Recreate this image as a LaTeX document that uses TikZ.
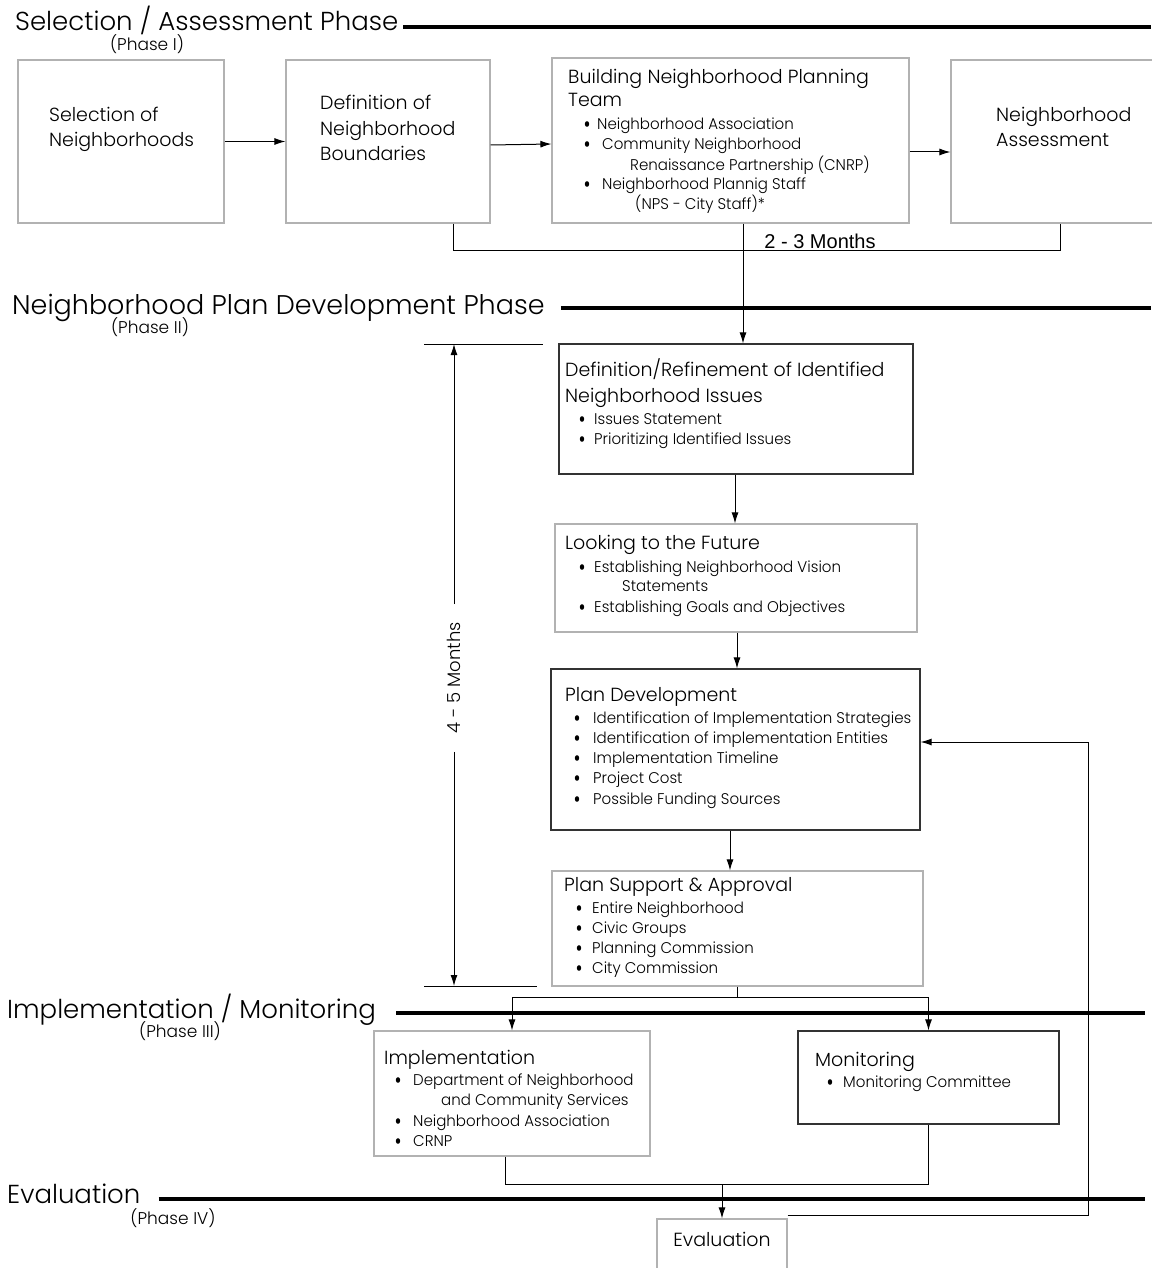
\documentclass[tikz,border=0pt]{standalone}
\usepackage{fontspec}
\setmainfont{Poppins}[UprightFont=* Light]
\newfontfamily\bodyfont{Poppins}[UprightFont=* Light, FakeStretch=0.97]
\newfontfamily\monthfont{Liberation Sans}
\usetikzlibrary{arrows.meta}

\begin{document}
\begin{tikzpicture}
	[
		x=1pt, y=-1pt,
		stagebox/.style = {shape=rectangle, draw=black!30, line width=1.1pt, inner sep=0pt},
		keybox/.style = {stagebox, draw=black!80},
		head/.style = {font=\fontsize{26}{30}\selectfont, anchor=base west, inner sep=0pt},
		phase/.style = {font=\fontsize{17}{20}\selectfont, inner sep=0pt},
		ttl/.style = {font=\fontsize{19}{23}\selectfont, anchor=mid west, yshift=-4pt, inner sep=0pt},
		itm/.style = {font=\bodyfont\fontsize{15.5}{18}\selectfont, anchor=mid west, yshift=-3pt, inner sep=0pt},
		phaseline/.style = {line width=3.5pt},
		link/.style = {line width=1pt},
		arr/.style = {link, -{Latex[length=11pt, width=7pt]}}
	]
	
	\useasboundingbox (0,0) rectangle (1151,1268);
	
	% phase headers
	\node [head] (h1) at (15,31) {Selection / Assessment Phase};
	\node [phase] at (147,44) {(Phase I)};
	\draw [phaseline] ([xshift=5]h1.east |- 0,27) -- (1151,27);
	
	\node [head, font=\fontsize{27}{31}\selectfont] (h2) at (12,314) {Neighborhood Plan Development Phase};
	\node [phase] at (150,327) {(Phase II)};
	\draw [phaseline] ([xshift=16]h2.east |- 0,308) -- (1151,308);
	
	\node [head] (h3) at (7,1018) {Implementation / Monitoring};
	\node [phase] at (180,1031) {(Phase III)};
	\draw [phaseline] ([xshift=20]h3.east |- 0,1013) -- (1145,1013);
	
	\node [head] (h4) at (7,1203) {Evaluation};
	\node [phase] at (173,1218) {(Phase IV)};
	\draw [phaseline] ([xshift=18]h4.east |- 0,1199) -- (1145,1199);
	
	% phase I
	\node [stagebox, minimum width=206, minimum height=163] (sel) at (121,141.5) {};
	\node [ttl] at (49,115) {Selection of};
	\node [ttl] at (49,140) {Neighborhoods};
	
	\node [stagebox, minimum width=204, minimum height=163] (bnd) at (388,141.5) {};
	\node [ttl] at (320,103) {Definition of};
	\node [ttl] at (320,129) {Neighborhood};
	\node [ttl] at (320,154) {Boundaries};
	
	\node [stagebox, minimum width=357, minimum height=165] (team) at (730.5,140.5) {};
	\node [ttl] at (568,77) {Building Neighborhood Planning};
	\node [ttl] at (568,100) {Team};
	\foreach \tx/\yy/\t in {597/124/Neighborhood Association, 602/144/Community Neighborhood, 602/184/Neighborhood Plannig Staff}
	{
		\fill (587,\yy) ellipse [x radius=2.2pt, y radius=2.8pt];
		\node [itm] at (\tx,\yy) {\t};
	}
	\node [itm] at (630,165) {Renaissance Partnership (CNRP)};
	\node [itm] at (635,204) {(NPS - City Staff)*};
	
	\node [stagebox, minimum width=219, minimum height=163] (asmt) at (1060.5,141.5) {};
	\node [ttl] at (996,115) {Neighborhood};
	\node [ttl] at (996,140) {Assessment};
	
	\draw [arr] (sel) -- (bnd);
	\draw [arr] ([yshift=-3.5]bnd.east) -- ([yshift=-3.5]team.west);
	\draw [arr] ([yshift=-11.5]team.east) -- ([yshift=-10.5]asmt.west);
	
	\draw [link] ([xshift=65]bnd.south) -- ++(0,27) -| (asmt.south);
	\node [font=\monthfont\fontsize{20}{24}\selectfont, inner sep=0pt] at (820,241) {2 - 3 Months};
	
	% phase II
	\node [keybox, minimum width=354, minimum height=130] (issues) at (736,409) {};
	\node [ttl] at (565,370) {Definition/Refinement of Identified};
	\node [ttl] at (565,396) {Neighborhood Issues};
	\foreach \yy/\t in {419/Issues Statement, 439/Prioritizing Identified Issues}
	{
		\fill (582,\yy) ellipse [x radius=2.2pt, y radius=2.8pt];
		\node [itm] at (594,\yy) {\t};
	}
	
	\node [stagebox, minimum width=362, minimum height=108] (future) at (736,578) {};
	\node [ttl] at (565,543) {Looking to the Future};
	\foreach \yy/\t in {567/Establishing Neighborhood Vision, 607/Establishing Goals and Objectives}
	{
		\fill (582,\yy) ellipse [x radius=2.2pt, y radius=2.8pt];
		\node [itm] at (594,\yy) {\t};
	}
	\node [itm] at (622,586) {Statements};
	
	\node [keybox, minimum width=369, minimum height=161] (plan) at (735.5,749.5) {};
	\node [ttl] at (565,695) {Plan Development};
	\foreach \yy/\t in {718/Identification of Implementation Strategies, 738/Identification of implementation Entities, 758/Implementation Timeline, 778/Project Cost, 799/Possible Funding Sources}
	{
		\fill (577,\yy) ellipse [x radius=2.2pt, y radius=2.8pt];
		\node [itm] at (593,\yy) {\t};
	}
	
	\node [stagebox, minimum width=371, minimum height=115] (support) at (737.5,928.5) {};
	\node [ttl] at (564,885) {Plan Support \& Approval};
	\foreach \yy/\t in {908/Entire Neighborhood, 928/Civic Groups, 948/Planning Commission, 968/City Commission}
	{
		\fill (579,\yy) ellipse [x radius=2.2pt, y radius=2.8pt];
		\node [itm] at (592,\yy) {\t};
	}
	
	\draw [arr] ([xshift=12.5]team.south) -- ([xshift=12.5]team.south |- issues.north);
	\draw [arr] ([xshift=-1]issues.south) -- ([xshift=-1]issues.south |- future.north);
	\draw [arr] ([xshift=1]future.south) -- ([xshift=1]future.south |- plan.north);
	\draw [arr] ([xshift=-5.5]plan.south) -- ([xshift=-5.5]plan.south |- support.north);
	
	% duration of phase II
	\coordinate (dimtop) at (454,344);
	\coordinate (dimbot) at (454,986);
	\draw [link] (424,344) -- (543,344);
	\draw [link] (424,986) -- (537,986);
	\node [phase, font=\fontsize{18}{21}\selectfont, rotate=90, inner xsep=18pt] (dur) at (454,678) {4 - 5 Months};
	\draw [arr] (dur.east) -- (dimtop);
	\draw [arr] (dur.west) -- (dimbot);
	
	% phase III
	\node [stagebox, minimum width=276, minimum height=125] (impl) at (512,1093.5) {};
	\node [ttl] at (384,1058) {Implementation};
	\foreach \yy/\t in {1080/Department of Neighborhood, 1121/Neighborhood Association, 1141/CRNP}
	{
		\fill (398,\yy) ellipse [x radius=2.2pt, y radius=2.8pt];
		\node [itm] at (413,\yy) {\t};
	}
	\node [itm] at (441,1100) {and Community Services};
	
	\node [keybox, minimum width=261, minimum height=93] (mon) at (928.5,1077.5) {};
	\node [ttl] at (815,1060) {Monitoring};
	\fill (830,1082) ellipse [x radius=2.2pt, y radius=2.8pt];
	\node [itm] at (843,1082) {Monitoring Committee};
	
	\draw [link] (support.south) -- ++(0,11) coordinate (split);
	\draw [arr] (split) -| (impl.north);
	\draw [arr] (split) -| (mon.north);
	
	% phase IV
	\node [stagebox, minimum width=130, minimum height=71] (eval) at (722,1254.5) {};
	\node [ttl, anchor=mid] at (722,1240) {Evaluation};
	
	\draw [link] ([xshift=-7]impl.south) -- ++(0,28) coordinate (joinl) -- (joinl -| mon.south) -- (mon.south);
	\draw [arr] (joinl -| eval.north) -- (eval.north);
	
	% feedback to plan development
	\draw [arr] ([yshift=3]eval.north east) -| ([xshift=168, yshift=7.5]plan.east) -- ([yshift=7.5]plan.east);
	
\end{tikzpicture}
\end{document}
